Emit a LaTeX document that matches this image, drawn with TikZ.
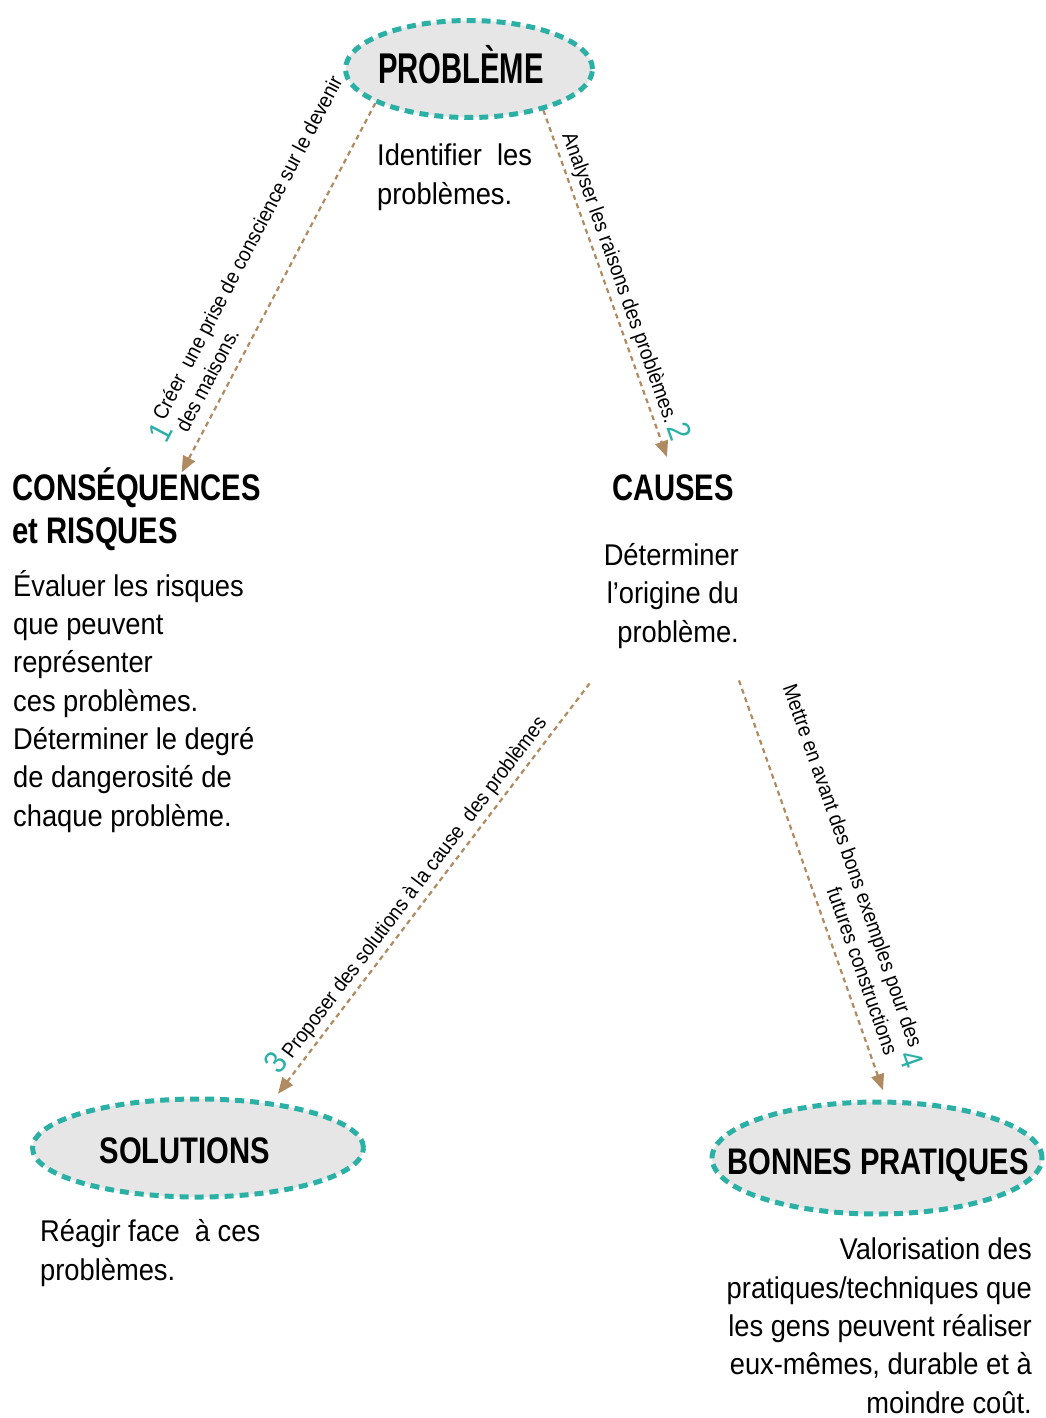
\documentclass[tikz,border=0pt]{standalone}
\usepackage{fontspec}
\setmainfont[FakeStretch=0.91]{Liberation Sans}
\newfontfamily\headfont[FakeStretch=0.79]{Liberation Sans}
\newfontfamily\titlefont[FakeStretch=0.68]{Liberation Sans}
\usetikzlibrary{arrows.meta}
\usetikzlibrary{shapes.geometric}
\usetikzlibrary{positioning}

\definecolor{stepteal}{HTML}{2BB0A6}
\definecolor{linkbrown}{HTML}{B08A60}
\definecolor{bubblegray}{HTML}{E6E6E6}
\newcommand{\stepnum}[1]{{\color{stepteal}\fontsize{32}{32}\selectfont #1}}

\begin{document}
\begin{tikzpicture}[x=1pt,y=-1pt,
    bubble/.style={ellipse,fill=bubblegray,draw=stepteal,line width=5pt,dash pattern=on 9pt off 6pt,inner sep=0pt},
    head/.style={inner sep=0pt,align=left,font=\headfont\bfseries\fontsize{37}{43}\selectfont},
    body/.style={inner sep=0pt,font=\fontsize{30}{38.3}\selectfont},
    link/.style={draw=linkbrown,line width=2.2pt,dash pattern=on 5pt off 4pt,-{Triangle[length=16pt,width=13pt]}},
    steplabel/.style={sloped,above,inner sep=4pt,font=\fontsize{21}{26}\selectfont}]
    \useasboundingbox (0,0) rectangle (1045,1418);

    % bulles
    \node[bubble,minimum width=247pt,minimum height=97pt] (prob) at (469,69) {};
    \node[bubble,minimum width=331pt,minimum height=98pt] (sol) at (198,1148) {};
    \node[bubble,minimum width=330pt,minimum height=112pt] (bon) at (877,1158) {};
    \node[inner sep=0pt,anchor=base,font=\titlefont\bfseries\fontsize{43}{43}\selectfont] (probhead) at (461,84) {PROBLÈME};
    \node[head,anchor=base] (solhead) at (185,1163) {SOLUTIONS};
    \node[head,anchor=base] (bonhead) at (878,1174) {BONNES PRATIQUES};

    % titres et textes (base = derniere ligne)
    \node[body,anchor=base west,align=left] (probtxt) at (377,204) {Identifier~~les\\problèmes.};
    \node[head,anchor=base west] (cons) at (12,543) {CONSÉQUENCES\\et RISQUES};
    \node[body,anchor=base west,align=left] (constxt) at (13,826)
        {Évaluer les risques\\que peuvent\\représenter\\ces problèmes.\\Déterminer le degré\\de dangerosité de\\chaque problème.};
    \node[head,anchor=base] (cause) at (673,500) {CAUSES};
    \node[body,anchor=base east,align=right] (causetxt) at (739,642) {Déterminer\\l’origine du\\problème.};
    \node[body,anchor=base west,align=left] (soltxt) at (40,1280) {Réagir face~~à ces\\problèmes.};
    \node[body,anchor=base east,align=right] (bontxt) at (1032,1413)
        {Valorisation des\\pratiques/techniques que\\les gens peuvent réaliser\\eux-mêmes, durable et à\\moindre coût.};

    % fleches
    \draw[link,shorten >=-6pt] (prob.200) -- ([xshift=48pt]cons.north)
        node[steplabel,pos=0.48] {\stepnum{1}\,\begin{tabular}{@{}l@{}}Créer~~une prise de conscience sur le devenir\\des maisons.\end{tabular}};
    \draw[link,shorten >=18pt] (prob.331) -- (cause.north)
        node[steplabel,midway] {Analyser les raisons des problèmes.\,\stepnum{2}};
    \draw[link,shorten >=10pt] ([xshift=-14pt,yshift=-35pt]causetxt.south west) -- (sol.32)
        node[steplabel,pos=0.53] {\stepnum{3}\,Proposer des solutions à la cause~~des problèmes};
    \draw[link,shorten >=10pt] ([yshift=-32pt]causetxt.south east) -- (bon.81)
        node[steplabel,midway] {\begin{tabular}{@{}r@{}}Mettre en avant des bons exemples pour des\\futures constructions\end{tabular}\,\stepnum{4}};
\end{tikzpicture}
\end{document}
